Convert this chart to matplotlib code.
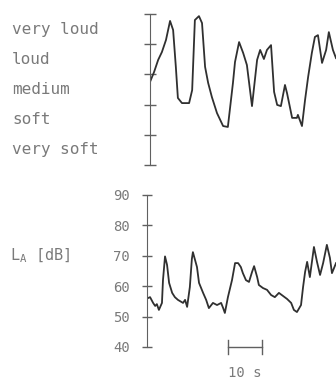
import numpy as np
import matplotlib
matplotlib.use("Agg")
import matplotlib.pyplot as plt
import matplotlib.transforms as mtransforms

plt.rcParams['font.family'] = 'DejaVu Sans Mono'
plt.rcParams['mathtext.fontset'] = 'dejavusans'

# judged loudness (0 = bottom of "very soft" band, 5 = top of "very loud")
t_judge = [0, 1.2, 2.4, 3.5, 4.7, 5.9, 6.8, 7.6, 8.2, 9.4, 11.5, 12.4, 13.2, 14.4,
           15.3, 16.2, 17.1, 18.2, 19.7, 21.5, 22.9, 24.4, 25.0, 26.2, 27.4, 28.5,
           30.0, 31.5, 32.4, 33.5, 34.4, 35.6, 36.5, 37.4, 38.5, 39.7, 40.3, 41.8,
           43.2, 43.5, 44.7, 45.6, 46.5, 47.6, 48.5, 49.4, 50.6, 51.8, 52.6, 53.8, 54.7]
judge = [2.75, 3.08, 3.48, 3.74, 4.14, 4.77, 4.47, 3.25, 2.22, 2.05, 2.05, 2.48, 4.80, 4.93,
         4.70, 3.25, 2.72, 2.25, 1.72, 1.29, 1.26, 2.72, 3.41, 4.07, 3.71, 3.31,
         1.95, 3.48, 3.81, 3.51, 3.81, 3.97, 2.42, 1.99, 1.95, 2.65, 2.38, 1.56,
         1.56, 1.66, 1.29, 2.15, 2.91, 3.71, 4.24, 4.30, 3.38, 3.81, 4.40, 3.81, 3.54]
categories = ['very soft', 'soft', 'medium', 'loud', 'very loud']

# measured A-weighted level
t_level = [0.3, 0.9, 1.8, 2.4, 2.9, 3.5, 4.4, 4.7, 5.3, 5.9, 6.5, 7.4, 8.2, 9.1, 10.6,
           11.2, 11.8, 12.6, 13.2, 13.5, 14.7, 15.3, 16.5, 17.4, 18.2, 19.4, 20.6,
           21.8, 22.4, 22.9, 23.8, 25.0, 25.9, 26.8, 27.6, 28.2, 29.1, 30.0, 30.9,
           31.5, 32.4, 32.9, 34.1, 35.3, 36.5, 37.6, 38.8, 40.0, 41.2, 42.4, 43.2,
           44.1, 45.3, 45.9, 46.5, 47.1, 47.9, 49.1, 50.0, 50.9, 51.8, 52.9, 53.8,
           54.4, 55.6]
level = [56.1, 56.4, 54.5, 53.5, 54.1, 52.2, 54.5, 62.0, 69.8, 67.0, 61.1, 57.8, 56.4,
         55.5, 54.5, 55.5, 53.2, 59.7, 69.0, 71.2, 66.3, 61.1, 57.8, 55.5, 52.8, 54.5,
         53.8, 54.5, 52.8, 51.2, 56.4, 62.0, 67.6, 67.6, 66.3, 64.3, 62.0, 61.4, 64.7,
         66.6, 63.0, 60.4, 59.4, 58.8, 57.1, 56.4, 57.8, 56.8, 55.8, 54.5, 52.2, 51.5,
         53.8, 59.7, 64.7, 68.0, 63.0, 72.9, 68.0, 63.7, 67.6, 73.6, 69.3, 64.3, 67.6]
db_ticks = [40, 50, 60, 70, 80, 90]

W, H = 336, 383
txt_c = '#7a7a7a'
ax_c = '#606060'
line_c = '#303030'

fig = plt.figure(figsize=(W / 100, H / 100), dpi=100)

# upper panel: judgement
ax1 = fig.add_axes([150 / W, 1 - 165 / H, 1 - 150 / W, 151 / H])
ax1.plot(t_judge, judge, color=line_c, lw=1.3)
ax1.set_xlim(0, (W - 150) / 3.4)
ax1.set_ylim(0, 5)
ax1.set_yticks(range(6))
ax1.set_yticklabels([])
ax1.tick_params(axis='y', direction='inout', length=8, width=1, color=ax_c)
ax1.set_xticks([])
for s in ['top', 'right', 'bottom']:
    ax1.spines[s].set_visible(False)
ax1.spines['left'].set_color(ax_c)
ax1.patch.set_alpha(0)
trans = mtransforms.blended_transform_factory(fig.transFigure, ax1.transData)
for i, c in enumerate(categories):
    ax1.text(12 / W, i + 0.5, c, transform=trans, ha='left', va='center',
             fontsize=11.5, color=txt_c)

# lower panel: level in dB
ax2 = fig.add_axes([147 / W, 36 / H, 1 - 147 / W, 152 / H])
ax2.plot(t_level, level, color=line_c, lw=1.3)
ax2.set_xlim(0, (W - 147) / 3.4)
ax2.set_ylim(40, 90)
ax2.set_yticks(db_ticks)
ax2.set_yticklabels([str(v) for v in db_ticks], fontsize=10, color=txt_c)
ax2.tick_params(axis='y', direction='inout', length=7, width=1, color=ax_c, pad=9)
ax2.set_xticks([])
for s in ['top', 'right', 'bottom']:
    ax2.spines[s].set_visible(False)
ax2.spines['left'].set_color(ax_c)
ax2.patch.set_alpha(0)
fig.text(10 / W, 1 - 256 / H, r'L$_\mathtt{A}$ [dB]', ha='left', va='center',
         fontsize=11, color=txt_c)

# 10 s scale bar
ax2.plot([23.8, 33.8], [40, 40], color=ax_c, lw=1, clip_on=False)
ax2.plot([23.8, 23.8], [37.6, 42.4], color=ax_c, lw=1, clip_on=False)
ax2.plot([33.8, 33.8], [37.6, 42.4], color=ax_c, lw=1, clip_on=False)
ax2.text(28.8, 31.5, '10 s', ha='center', va='center', fontsize=10, color=txt_c,
         clip_on=False)

fig.savefig('out.png', dpi=100)
